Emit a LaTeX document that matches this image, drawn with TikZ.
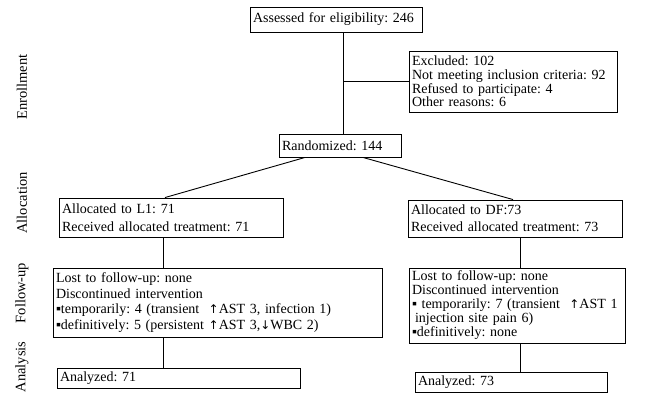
\documentclass[tikz,border=0pt]{standalone}
\usepackage{fontspec}
\setmainfont{Liberation Serif}
\newfontfamily\arrowfont{DejaVu Sans}
\newcommand{\uparr}{{\arrowfont\fontsize{12}{12}\selectfont ↑}}
\newcommand{\downarr}{{\arrowfont\fontsize{12}{12}\selectfont ↓}}
\frenchspacing
\begin{document}
\begin{tikzpicture}[x=1pt,y=-1pt,
  box/.style={draw, line width=0.9pt, inner xsep=3pt, inner ysep=0pt, align=left,
    font=\fontsize{14}{13.8}\selectfont},
  sidelabel/.style={rotate=90, font=\fontsize{14.5}{14}\selectfont, inner sep=0pt},
  conn/.style={line width=0.9pt}]
\useasboundingbox (0,0) rectangle (656,400);
% boxes
\node[box, minimum width=172pt, minimum height=25pt, text width=166pt] (assessed) at (336,19.5) {\mbox{Assessed for eligibility: 246}};
\node[box, minimum width=208pt, minimum height=61pt, text width=202pt] (excl) at (513,81.5)
  {Excluded: 102\\\mbox{Not meeting inclusion criteria: 92}\\Refused to participate: 4\\Other reasons: 6};
\node[box, minimum width=122pt, minimum height=23pt, text width=116pt] (rand) at (340,145.5) {Randomized: 144};
\node[box, minimum width=224pt, minimum height=39pt, text width=218pt,
  font=\fontsize{14}{17.5}\selectfont] (L1) at (171,217.5)
  {Allocated to L1: 71\\Received allocated treatment: 71};
\node[box, minimum width=214pt, minimum height=37pt, text width=208pt,
  font=\fontsize{14}{17}\selectfont] (DF) at (515,218.5)
  {Allocated to DF:73\\Received allocated treatment: 73};
\node[box, minimum width=329pt, minimum height=69pt, text width=323pt,
  font=\fontsize{14}{15.5}\selectfont] (fu1) at (217.5,302.5)
  {Lost to follow-up: none\\Discontinued intervention\\%
   \mbox{▪temporarily: 4 (transient ~\uparr AST 3, infection 1)}\\%
   \mbox{▪definitively: 5 (persistent \uparr AST 3,\downarr WBC 2)}};
\node[box, minimum width=216pt, minimum height=75pt, text width=210pt,
  font=\fontsize{14}{14}\selectfont] (fu2) at (517,305.5)
  {Lost to follow-up: none\\Discontinued intervention\\%
   \mbox{▪ temporarily: 7 (transient ~\uparr AST 1}\\%
   \mbox{\hspace*{3pt}injection site pain 6)}\\%
   ▪definitively: none};
\node[box, minimum width=243pt, minimum height=20pt, text width=237pt] (an1) at (178.5,378) {Analyzed: 71};
\node[box, minimum width=192pt, minimum height=20pt, text width=186pt] (an2) at (511,382) {Analyzed: 73};
% side labels
\node[sidelabel] (lenr) at (22,87) {Enrollment};
\node[sidelabel] (lall) at (22,203) {Allocation};
\node[sidelabel] (lfu) at (22,293) {Follow-up};
\node[sidelabel] (lan) at (22,367) {Analysis};
% connectors
\coordinate (vx) at (343,0);
\coordinate (lx) at (163,0);
\coordinate (rx) at (520,0);
\draw[conn] (vx |- assessed.south) -- (vx |- rand.north);
\draw[conn] (vx |- excl.west) -- (excl.west);
\draw[conn] ([xshift=-35pt]rand.south) -- ([xshift=-6pt]L1.north);
\draw[conn] ([xshift=23pt]rand.south) -- ([xshift=-2pt]DF.north);
\draw[conn] (lx |- L1.south) -- (lx |- fu1.north);
\draw[conn] (lx |- fu1.south) -- (lx |- an1.north);
\draw[conn] (rx |- DF.south) -- (rx |- fu2.north);
\draw[conn] (rx |- fu2.south) -- (rx |- an2.north);
\end{tikzpicture}
\end{document}
